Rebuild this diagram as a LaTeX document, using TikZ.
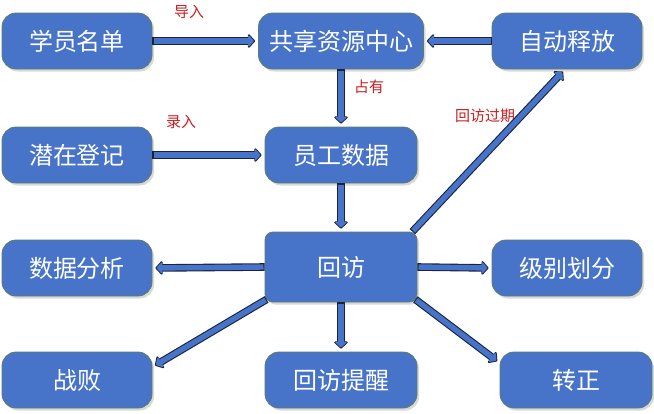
\documentclass[tikz,border=0pt]{standalone}
\usepackage{fontspec}
\newfontfamily\cjk{Noto Sans CJK SC}
\usetikzlibrary{arrows.meta,shadows,calc}
\definecolor{boxblue}{RGB}{71,116,200}
\definecolor{boxline}{RGB}{95,125,105}
\definecolor{arrline}{RGB}{25,35,60}
\definecolor{lblred}{RGB}{200,30,30}
\tikzset{
  box/.style={draw=boxline, line width=0.8pt, fill=boxblue, rounded corners=14pt,
    minimum width=150pt, minimum height=56pt, inner sep=0pt, text=white,
    font=\cjk\fontsize{24}{24}\selectfont,
    drop shadow={shadow xshift=2pt, shadow yshift=-2.5pt, opacity=0.25, fill=black!60}},
  lbl/.style={text=lblred, font=\cjk\fontsize{15}{15}\selectfont, inner sep=0pt},
  arrout/.style={draw=arrline, line width=7.6pt, shorten >=3pt,
    -{Triangle[length=7.5pt,width=16pt,round]}},
  arrin/.style={draw=boxblue, line width=5.4pt, shorten >=4.2pt, shorten <=1.1pt,
    -{Triangle[length=6pt,width=13pt,round]}},
}
\newcommand\conn[2]{\draw[arrout] #1 -- #2; \draw[arrin] #1 -- #2;}
\begin{document}
\begin{tikzpicture}[x=1pt,y=-1pt]
\useasboundingbox (0,0) rectangle (654,413);
\node[box] (xy) at (77,41) {学员名单};
\node[box, minimum width=165pt] (gx) at (341,41) {共享资源中心};
\node[box] (zd) at (567,41) {自动释放};
\node[box] (qz) at (77,155) {潜在登记};
\node[box, minimum width=152pt] (yg) at (341,155) {员工数据};
\node[box] (sj) at (77,268) {数据分析};
\node[box, minimum width=152pt, minimum height=70pt, rounded corners=8pt] (hf) at (341,267) {回访};
\node[box] (jb) at (567,268) {级别划分};
\node[box] (zb) at (77,380) {战败};
\node[box, minimum width=152pt] (tx) at (341,380) {回访提醒};
\node[box, minimum width=152pt] (zz) at (576,380) {转正};

\node[lbl] (l1) at (189,12) {导入};
\node[lbl] (l2) at (369,87) {占有};
\node[lbl] (l3) at (181,122) {录入};
\node[lbl] (l4) at (485,116) {回访过期};

\conn{(xy.east)}{(gx.west)}
\conn{(zd.west)}{(gx.east)}
\conn{(gx.south)}{(yg.north)}
\conn{(qz.east)}{(yg.west)}
\conn{(yg.south)}{(hf.north)}
\conn{(hf.west)}{(sj.east)}
\conn{(hf.east)}{(jb.west)}
\conn{(hf.south)}{(tx.north)}
\conn{([xshift=2pt,yshift=3pt]hf.south west)}{([yshift=13pt]zb.east)}
\conn{([xshift=-2pt,yshift=3pt]hf.south east)}{([yshift=17pt]zz.west)}
\conn{([xshift=-5pt]hf.north east)}{([xshift=-2pt]zd.south)}
\end{tikzpicture}
\end{document}
